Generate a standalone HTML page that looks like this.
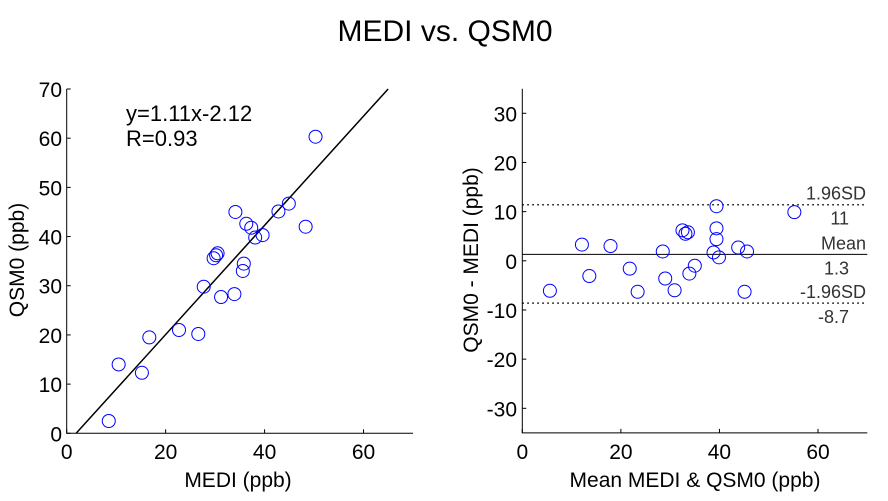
<!DOCTYPE html>
<html><head><meta charset="utf-8"><style>
body{margin:0;background:#fff;width:888px;height:496px;overflow:hidden}
svg text{font-family:"Liberation Sans",Arial,sans-serif}
</style></head><body>
<svg id="chart" width="888" height="496" xmlns="http://www.w3.org/2000/svg">
<text x="445" y="41" font-size="30" text-anchor="middle">MEDI vs. QSM0</text>
<g id="left"></g>
<g id="right"></g>
</svg>
<script>
const medi = [8.5,10.5,15.2,16.7,22.7,26.6,27.7,29.7,30.2,30.5,31.2,33.9,34.1,35.6,35.8,36.3,37.3,38.1,39.6,42.8,44.9,48.3,50.3];
const qsm0 = [2.5,14,12.3,19.5,21,20.2,29.8,35.6,36.2,36.6,27.7,28.3,45,33,34.5,42.6,41.8,39.8,40.3,45.1,46.7,42,60.3];
const baMean = [5.6,12.1,13.6,17.9,21.8,23.4,28.5,29.0,30.9,32.5,33.1,33.6,33.9,35.0,38.8,39.4,39.4,39.4,39.9,43.8,45.1,45.6,55.2];
const baDiff = [-6.1,3.3,-3.1,3.0,-1.6,-6.3,1.9,-3.6,-6.0,6.2,5.5,5.8,-2.6,-1.0,1.7,11.1,6.6,4.4,0.7,2.7,-6.3,1.9,9.9];
const fitSlope = 1.11, fitIntercept = -2.12;
const leftXTicks = [0,20,40,60];
const leftYTicks = [0,10,20,30,40,50,60,70];
const rightXTicks = [0,20,40,60];
const rightYTicks = [-30,-20,-10,0,10,20,30];
const meanDiff = 1.3, upperLoA = 11.4, lowerLoA = -8.6;
const NS='http://www.w3.org/2000/svg';
function mk(parent,tag,attrs,txt){const e=document.createElementNS(NS,tag);for(const k in attrs)e.setAttribute(k,attrs[k]);if(txt!==undefined)e.textContent=txt;parent.appendChild(e);return e;}
// Left
const L=document.getElementById('left');
const lx=v=>66.7+v*(413-66.7)/70, ly=v=>433.3-v*(433.3-89)/70;
let e;
e=mk(L,'path',{d:`M${lx(0)},${ly(70)}V${ly(0)}H${lx(70)}`,fill:'none',stroke:'#000','stroke-width':1});

leftXTicks.forEach(t=>{mk(L,'line',{x1:lx(t),x2:lx(t),y1:ly(0),y2:ly(0)-4,stroke:'#000'});
 e=mk(L,'text',{x:lx(t),y:459,'font-size':21,'text-anchor':'middle'},t);
 });
leftYTicks.forEach(t=>{mk(L,'line',{x1:lx(0),x2:lx(0)+4,y1:ly(t),y2:ly(t),stroke:'#000'});
 e=mk(L,'text',{x:62,y:ly(t)+8,'font-size':21,'text-anchor':'end'},t);
 });
const x0=-fitIntercept/fitSlope, x1=(70-fitIntercept)/fitSlope;
e=mk(L,'line',{x1:lx(x0),y1:ly(0),x2:lx(x1),y2:ly(70),stroke:'#000','stroke-width':1.5});

medi.forEach((m,i)=>{e=mk(L,'circle',{cx:lx(m),cy:ly(qsm0[i]),r:6.5,fill:'none',stroke:'#0000ff','stroke-width':1});
 });
e=mk(L,'text',{x:126,y:121,'font-size':22},'y=1.11x-2.12');
e=mk(L,'text',{x:126,y:146,'font-size':22},'R=0.93');
e=mk(L,'text',{x:238,y:487,'font-size':21,'text-anchor':'middle'},'MEDI (ppb)');
e=mk(L,'text',{x:0,y:0,'font-size':21,'text-anchor':'middle',transform:'translate(24,260) rotate(-90)'},'QSM0 (ppb)');
// Right
const R=document.getElementById('right');
const rx=v=>522.3+v*(867.3-522.3)/70, ry=v=>260.8-v*4.917;
e=mk(R,'path',{d:`M${rx(0)},${ry(35)}V${ry(-35)}H${rx(70)}`,fill:'none',stroke:'#000','stroke-width':1});

rightXTicks.forEach(t=>{mk(R,'line',{x1:rx(t),x2:rx(t),y1:ry(-35),y2:ry(-35)-4,stroke:'#000'});
 e=mk(R,'text',{x:rx(t),y:459,'font-size':21,'text-anchor':'middle'},t);
 });
rightYTicks.forEach(t=>{mk(R,'line',{x1:rx(0),x2:rx(0)+4,y1:ry(t),y2:ry(t),stroke:'#000'});
 e=mk(R,'text',{x:517,y:ry(t)+8,'font-size':21,'text-anchor':'end'},t);
 });
e=mk(R,'line',{x1:rx(0),x2:rx(70),y1:ry(meanDiff),y2:ry(meanDiff),stroke:'#000','stroke-width':1});

[upperLoA,lowerLoA].forEach(v=>{e=mk(R,'line',{x1:rx(0),x2:rx(70),y1:ry(v),y2:ry(v),stroke:'#000','stroke-width':1.5,'stroke-dasharray':'1.5,3.5'});
 });
baMean.forEach((m,i)=>{e=mk(R,'circle',{cx:rx(m),cy:ry(baDiff[i]),r:6.5,fill:'none',stroke:'#0000ff','stroke-width':1});
 });
const ann=[['1.96SD',866,ry(upperLoA)-5],['11',849,ry(upperLoA)+20],['Mean',866,ry(meanDiff)-5],['1.3',849,ry(meanDiff)+20],['-1.96SD',866,ry(lowerLoA)-5],['-8.7',849,ry(lowerLoA)+20]];
ann.forEach(a=>{e=mk(R,'text',{x:a[1],y:a[2],'font-size':18,'text-anchor':'end',fill:'#333'},a[0]);
 });
e=mk(R,'text',{x:695,y:487,'font-size':21,'text-anchor':'middle'},'Mean MEDI & QSM0 (ppb)');
e=mk(R,'text',{x:0,y:0,'font-size':21,'text-anchor':'middle',transform:'translate(478,260) rotate(-90)'},'QSM0 - MEDI (ppb)');
</script>
</body></html>
